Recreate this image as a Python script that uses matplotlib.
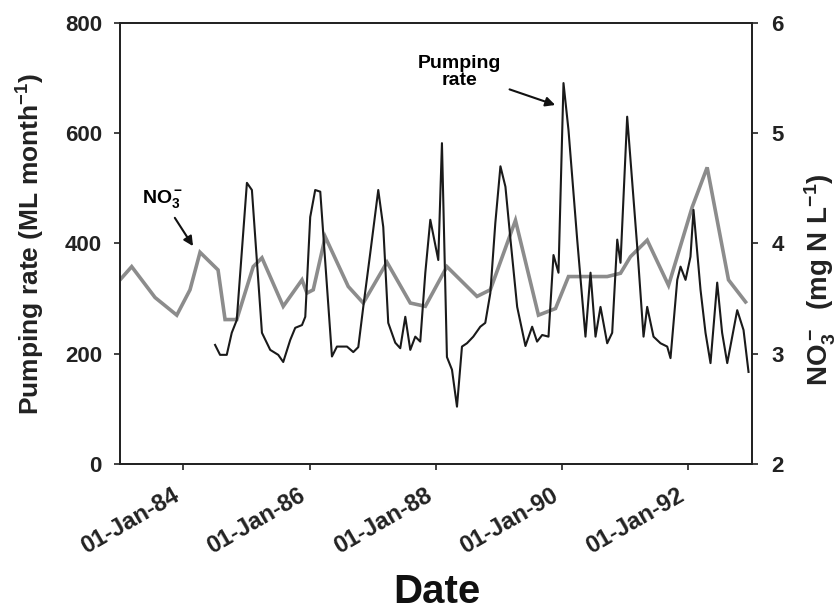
import matplotlib
matplotlib.use("Agg")
import matplotlib.pyplot as plt
import matplotlib.dates as mdates
import pandas as pd

plt.rcParams['font.family'] = ['Liberation Sans', 'DejaVu Sans']
plt.rcParams['mathtext.fontset'] = 'custom'
plt.rcParams['mathtext.rm'] = 'Liberation Sans:bold'
plt.rcParams['mathtext.bf'] = 'Liberation Sans:bold'
plt.rcParams['mathtext.it'] = 'Liberation Sans:bold'
plt.rcParams['mathtext.default'] = 'bf'

# ---- data (decimal years) ----
pump_year = [1984.506, 1984.585, 1984.691, 1984.770, 1984.849, 1985.008, 1985.087, 1985.246,
             1985.377, 1985.504, 1985.583, 1985.694, 1985.773, 1985.880, 1985.932, 1986.011,
             1986.090, 1986.170, 1986.355, 1986.434, 1986.593, 1986.693, 1986.772, 1986.851,
             1986.962, 1987.089, 1987.168, 1987.247, 1987.358, 1987.437, 1987.517, 1987.596,
             1987.675, 1987.754, 1987.834, 1987.913, 1988.040, 1988.098, 1988.177, 1988.257,
             1988.336, 1988.415, 1988.494, 1988.594, 1988.705, 1988.784, 1988.864, 1988.943,
             1989.022, 1989.101, 1989.181, 1989.287, 1989.418, 1989.524, 1989.602, 1989.683,
             1989.783, 1989.862, 1989.941, 1990.021, 1990.100, 1990.238, 1990.369, 1990.449,
             1990.528, 1990.607, 1990.713, 1990.792, 1990.872, 1990.924, 1991.030, 1991.189,
             1991.289, 1991.347, 1991.447, 1991.558, 1991.664, 1991.716, 1991.823, 1991.875,
             1991.954, 1992.033, 1992.081, 1992.192, 1992.271, 1992.350, 1992.456, 1992.534,
             1992.615, 1992.773, 1992.873, 1992.952]
pump_val = [216, 198, 198, 238, 261, 510, 497, 238,
            207, 198, 185, 225, 247, 252, 267, 448,
            497, 494, 195, 213, 213, 203, 212, 285,
            383, 497, 430, 256, 220, 210, 267, 207,
            231, 222, 347, 443, 370, 582, 194, 171,
            104, 213, 219, 231, 249, 256, 310, 437,
            540, 503, 407, 285, 214, 249, 222, 234,
            231, 379, 347, 691, 606, 407, 231, 347,
            231, 285, 219, 238, 407, 365, 630, 394,
            231, 285, 231, 219, 213, 192, 334, 358,
            334, 376, 461, 316, 238, 183, 329, 238,
            183, 279, 243, 167]

no3_year = [1983.000, 1983.185, 1983.555, 1983.899, 1984.109, 1984.268, 1984.553, 1984.664,
            1984.849, 1985.108, 1985.246, 1985.583, 1985.880, 1985.959, 1986.059, 1986.249,
            1986.613, 1986.851, 1987.227, 1987.596, 1987.834, 1988.177, 1988.653, 1988.864,
            1989.260, 1989.624, 1989.894, 1990.100, 1990.713, 1990.924, 1991.082, 1991.347,
            1991.685, 1992.060, 1992.297, 1992.635, 1992.905]
no3_val = [3.67, 3.79, 3.51, 3.35, 3.58, 3.92, 3.76, 3.31,
           3.31, 3.79, 3.87, 3.43, 3.67, 3.55, 3.58, 4.06,
           3.61, 3.46, 3.83, 3.46, 3.43, 3.79, 3.52, 3.58,
           4.21, 3.35, 3.41, 3.70, 3.70, 3.73, 3.88, 4.03,
           3.62, 4.33, 4.69, 3.67, 3.47]

tick_years = [1984, 1986, 1988, 1990, 1992]
left_ticks = [0, 200, 400, 600, 800]
right_ticks = [2, 3, 4, 5, 6]


def to_dates(years):
    out = []
    for y in years:
        base = pd.Timestamp(year=int(y), month=1, day=1)
        out.append(base + pd.Timedelta(days=(y - int(y)) * 365.25))
    return out


fig = plt.figure(figsize=(8.38, 6.11), dpi=100)
ax = fig.add_axes([0.1432, 0.2406, 0.7538, 0.7218])
ax2 = ax.twinx()

ax2.plot(to_dates(no3_year), no3_val, color='#8c8c8c', lw=2.6, solid_joinstyle='miter')
ax.plot(to_dates(pump_year), pump_val, color='#1a1a1a', lw=1.5)
ax.set_zorder(ax2.get_zorder() + 1)
ax.patch.set_visible(False)

ax.set_xlim(pd.Timestamp('1983-01-01'), pd.Timestamp('1993-01-01'))
ax.set_ylim(0, 800)
ax2.set_ylim(2, 6)
ax.set_yticks(left_ticks)
ax2.set_yticks(right_ticks)
ax.set_xticks([pd.Timestamp(year=y, month=1, day=1) for y in tick_years])
ax.xaxis.set_major_formatter(mdates.DateFormatter('%d-%b-%y'))

for a in (ax, ax2):
    for s in a.spines.values():
        s.set_linewidth(1.3)
        s.set_color('#222222')
    a.tick_params(direction='out', length=4, width=1.2, labelsize=16, colors='#222222')

ax.tick_params(axis='y', pad=9)
ax2.tick_params(axis='y', pad=10)
ax.tick_params(axis='x', pad=10, labelsize=17)
for lab in ax.get_xticklabels():
    lab.set_rotation(30)
    lab.set_ha('right')
    lab.set_fontweight('bold')
for lab in ax.get_yticklabels() + ax2.get_yticklabels():
    lab.set_fontweight('bold')

fig.text(31 / 838, 1 - 244 / 611, 'Pumping rate (ML month$^{-1}$)', rotation=90,
         ha='center', va='center', fontsize=19, fontweight='bold', color='#222222')
fig.text(820 / 838, 1 - 280 / 611, 'NO$_3^-$  (mg N L$^{-1}$)', rotation=90,
         ha='center', va='center', fontsize=20, fontweight='bold', color='#222222')
fig.text(437 / 838, 1 - 592 / 611, 'Date', ha='center', va='center',
         fontsize=29, fontweight='bold', color='#111111')

ax.annotate('Pumping\nrate', xy=(0.689, 0.814), xycoords='axes fraction',
            xytext=(0.538, 0.888), textcoords='axes fraction', ha='center', va='center',
            fontsize=14, fontweight='bold', linespacing=1.0,
            arrowprops=dict(arrowstyle='-|>', color='#111111', lw=1.5, shrinkA=4, shrinkB=0,
                            mutation_scale=14))
ax.annotate('NO$_3^-$', xy=(0.1156, 0.494), xycoords='axes fraction',
            xytext=(0.068, 0.600), textcoords='axes fraction', ha='center', va='center',
            fontsize=14, fontweight='bold',
            arrowprops=dict(arrowstyle='-|>', color='#111111', lw=1.5, shrinkA=4, shrinkB=0,
                            mutation_scale=14))

fig.savefig('out.png', dpi=100)
